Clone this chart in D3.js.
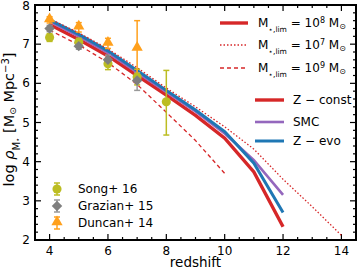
<!DOCTYPE html>
<html lang="en">
<head>
  <meta charset="UTF-8">
  <title>Stellar mass density</title>
  <script src="https://d3js.org/d3.v7.min.js"></script>
  <style>
    body { margin: 0; background: #fff; }
    text { font-family: "DejaVu Sans", sans-serif; fill: #000; }
  </style>
</head>
<body>
  <div id="chart"></div>
  <script>
    // model curves
    const zModel = [4, 5, 6, 7, 8, 9, 10, 11, 12];
    const zConst = [7.50, 7.12, 6.70, 6.20, 5.70, 5.18, 4.60, 3.74, 2.34];
    const zSmc = [7.58, 7.20, 6.78, 6.28, 5.78, 5.28, 4.72, 4.04, 3.15];
    const zEvo = [7.62, 7.25, 6.83, 6.33, 5.82, 5.32, 4.77, 3.96, 2.70];
    const zLim7 = [4, 5, 6, 7, 8, 9, 10, 11, 12, 13, 14];
    const lim7 = [7.65, 7.29, 6.88, 6.40, 5.88, 5.40, 4.89, 4.32, 3.55, 2.85, 2.12];
    const zLim9 = [4, 5, 6, 7, 8, 9, 10];
    const lim9 = [7.36, 6.98, 6.53, 5.97, 5.26, 4.54, 3.70];

    // observations: value, err up, err down
    const zObs = [4, 5, 6, 7, 8];
    const song = [7.17, 7.05, 6.50, 6.16, 5.53];
    const songUp = [0.1, 0.1, 0.15, 0.2, 0.8];
    const songDn = [0.1, 0.1, 0.15, 0.2, 0.85];
    const zGraz = [4, 5, 6, 7];
    const grazian = [7.40, 6.95, 6.60, 6.07];
    const grazUp = [0.08, 0.08, 0.12, 0.2];
    const grazDn = [0.08, 0.08, 0.12, 0.25];
    const zDun = [4, 5, 6, 7];
    const duncan = [7.62, 7.43, 7.02, 6.89];
    const dunUp = [0.08, 0.12, 0.13, 0.71];
    const dunDn = [0.08, 0.12, 0.13, 0.8];

    const xTicks = [4, 6, 8, 10, 12, 14];
    const yTicks = [2, 3, 4, 5, 6, 7, 8];

    const W = 358, H = 271;
    const m = { left: 35, right: 2, top: 5, bottom: 31 };
    const red = "#d62728", blue = "#1f77b4", purple = "#9467bd";
    const olive = "#bcbd22", grey = "#7f7f7f", orange = "#ffa01c";

    const svg = d3.select("#chart").append("svg")
      .attr("width", W).attr("height", H);

    const x = d3.scaleLinear().domain([3.5, 14.5]).range([m.left, W - m.right]);
    const y = d3.scaleLinear().domain([2, 8]).range([H - m.bottom, m.top]);

    const defs = svg.append("defs");
    defs.append("clipPath").attr("id", "clip").append("rect")
      .attr("x", m.left).attr("y", m.top)
      .attr("width", W - m.left - m.right).attr("height", H - m.top - m.bottom);

    // ticks on all four sides, pointing in
    const axisG = svg.append("g");
    const minorX = d3.range(3.5, 14.51, 0.5);
    const minorY = d3.range(2, 8.01, 0.2);
    minorX.forEach(v => {
      const major = xTicks.includes(v);
      const len = major ? 6 : 3;
      axisG.append("line").attr("x1", x(v)).attr("x2", x(v))
        .attr("y1", y(2)).attr("y2", y(2) - len).attr("stroke", "#000").attr("stroke-width", 1.2);
      axisG.append("line").attr("x1", x(v)).attr("x2", x(v))
        .attr("y1", y(8)).attr("y2", y(8) + len).attr("stroke", "#000").attr("stroke-width", 1.2);
    });
    minorY.forEach(v => {
      const major = Math.abs(v - Math.round(v)) < 1e-6;
      const len = major ? 6 : 3;
      axisG.append("line").attr("y1", y(v)).attr("y2", y(v))
        .attr("x1", x(3.5)).attr("x2", x(3.5) + len).attr("stroke", "#000").attr("stroke-width", 1.2);
      axisG.append("line").attr("y1", y(v)).attr("y2", y(v))
        .attr("x1", x(14.5)).attr("x2", x(14.5) - len).attr("stroke", "#000").attr("stroke-width", 1.2);
    });
    xTicks.forEach(v => {
      axisG.append("text").attr("x", x(v)).attr("y", y(2) + 15)
        .attr("text-anchor", "middle").attr("font-size", 12).text(v);
    });
    yTicks.forEach(v => {
      axisG.append("text").attr("x", x(3.5) - 5).attr("y", Math.max(y(v) + 4, 10))
        .attr("text-anchor", "end").attr("font-size", 12).text(v);
    });

    // model lines
    const line = d3.line().x(d => x(d[0])).y(d => y(d[1]));
    const plot = svg.append("g").attr("clip-path", "url(#clip)");
    const curves = [
      { z: zModel, vs: zConst, color: red, w: 3.4, dash: null },
      { z: zModel, vs: zSmc, color: purple, w: 2.6, dash: null },
      { z: zModel, vs: zEvo, color: blue, w: 3, dash: null },
      { z: zLim9, vs: lim9, color: red, w: 1.3, dash: "4,3" },
      { z: zLim7, vs: lim7, color: red, w: 1.3, dash: "1.5,2" }
    ];
    curves.forEach(c => {
      plot.append("path")
        .datum(c.z.map((z, i) => [z, c.vs[i]]))
        .attr("d", line).attr("fill", "none")
        .attr("stroke", c.color).attr("stroke-width", c.w)
        .attr("stroke-dasharray", c.dash);
    });

    // error bars + markers
    function errBars(zs, vals, up, dn, color) {
      zs.forEach((z, i) => {
        const g = plot.append("g").attr("stroke", color).attr("stroke-width", 1.5);
        g.append("line").attr("x1", x(z)).attr("x2", x(z))
          .attr("y1", y(vals[i] + up[i])).attr("y2", y(vals[i] - dn[i]));
        [vals[i] + up[i], vals[i] - dn[i]].forEach(v => {
          g.append("line").attr("x1", x(z) - 3).attr("x2", x(z) + 3)
            .attr("y1", y(v)).attr("y2", y(v));
        });
      });
    }
    errBars(zObs, song, songUp, songDn, olive);
    errBars(zGraz, grazian, grazUp, grazDn, "#999");
    errBars(zDun, duncan, dunUp, dunDn, orange);

    const circ = d3.symbol().type(d3.symbolCircle).size(65);
    const diam = d3.symbol().type(d3.symbolSquare).size(55);
    const tri = d3.symbol().type(d3.symbolTriangle).size(55);

    zObs.forEach((z, i) => plot.append("path").attr("d", circ)
      .attr("transform", `translate(${x(z)},${y(song[i])})`).attr("fill", olive));
    zGraz.forEach((z, i) => plot.append("path").attr("d", diam)
      .attr("transform", `translate(${x(z)},${y(grazian[i])}) rotate(45)`).attr("fill", grey));
    zDun.forEach((z, i) => plot.append("path").attr("d", tri)
      .attr("transform", `translate(${x(z)},${y(duncan[i]) - 1})`).attr("fill", orange));

    // frame
    svg.append("rect").attr("x", m.left).attr("y", m.top)
      .attr("width", W - m.left - m.right).attr("height", H - m.top - m.bottom)
      .attr("fill", "none").attr("stroke", "#000").attr("stroke-width", 2);

    // axis labels
    svg.append("text").attr("x", x(9)).attr("y", H - 4)
      .attr("text-anchor", "middle").attr("font-size", 13.5).text("redshift");

    const yl = svg.append("text").attr("transform", `translate(14,${y(5) - 3}) rotate(-90)`)
      .attr("text-anchor", "middle").attr("font-size", 14.5);
    yl.append("tspan").text("log ");
    yl.append("tspan").attr("font-style", "italic").text("ρ");
    yl.append("tspan").attr("font-size", 10).attr("baseline-shift", "sub").text("M");
    yl.append("tspan").attr("font-size", 7).attr("baseline-shift", "-6").text("⋆");
    yl.append("tspan").text(" [M");
    yl.append("tspan").attr("font-size", 9).attr("baseline-shift", "-2").text("⊙");
    yl.append("tspan").text(" Mpc");
    yl.append("tspan").attr("font-size", 10).attr("baseline-shift", "super").text("−3");
    yl.append("tspan").text("]");

    // legend: stellar mass limits
    const limLabels = ["8", "7", "9"];
    const limDash = [null, "1.5,2", "4,3"];
    const limW = [3.4, 1.3, 1.3];
    const limY = [23, 45, 68];
    limLabels.forEach((p, i) => {
      svg.append("line").attr("x1", 220).attr("x2", 248).attr("y1", limY[i]).attr("y2", limY[i])
        .attr("stroke", red).attr("stroke-width", limW[i]).attr("stroke-dasharray", limDash[i]);
      const t = svg.append("text").attr("x", 258).attr("y", limY[i] + 4).attr("font-size", 12);
      t.append("tspan").text("M");
      t.append("tspan").attr("font-size", 7.5).attr("baseline-shift", "sub").text("⋆,lim");
      t.append("tspan").text(" = 10");
      t.append("tspan").attr("font-size", 8).attr("baseline-shift", "super").text(p);
      t.append("tspan").text(" M");
      t.append("tspan").attr("font-size", 8).attr("baseline-shift", "-2").text("⊙");
    });

    // legend: metallicity models
    const zLabels = ["Z − const", "SMC", "Z − evo"];
    const zColors = [red, purple, blue];
    const zW = [3.4, 2.6, 3];
    const zY = [100, 122, 141];
    zLabels.forEach((lab, i) => {
      svg.append("line").attr("x1", 255).attr("x2", 284).attr("y1", zY[i]).attr("y2", zY[i])
        .attr("stroke", zColors[i]).attr("stroke-width", zW[i]);
      svg.append("text").attr("x", 293).attr("y", zY[i] + 4).attr("font-size", 12).text(lab);
    });

    // legend: observations
    const obsLabels = ["Song+ 16", "Grazian+ 15", "Duncan+ 14"];
    const obsColors = [olive, grey, orange];
    const obsSym = [circ, diam, tri];
    const obsY = [189, 206, 223];
    obsLabels.forEach((lab, i) => {
      const lx = 57;
      const ec = i === 1 ? "#999" : obsColors[i];
      svg.append("line").attr("x1", lx).attr("x2", lx).attr("y1", obsY[i] - 6).attr("y2", obsY[i] + 6)
        .attr("stroke", ec).attr("stroke-width", 1.5);
      [-6, 6].forEach(dy => svg.append("line").attr("x1", lx - 3).attr("x2", lx + 3)
        .attr("y1", obsY[i] + dy).attr("y2", obsY[i] + dy)
        .attr("stroke", ec).attr("stroke-width", 1.5));
      svg.append("path").attr("d", obsSym[i])
        .attr("transform", `translate(${lx},${obsY[i] - (i === 2 ? 1 : 0)})` + (i === 1 ? " rotate(45)" : ""))
        .attr("fill", obsColors[i]);
      svg.append("text").attr("x", 78).attr("y", obsY[i] + 4).attr("font-size", 12).text(lab);
    });
  </script>
</body>
</html>
